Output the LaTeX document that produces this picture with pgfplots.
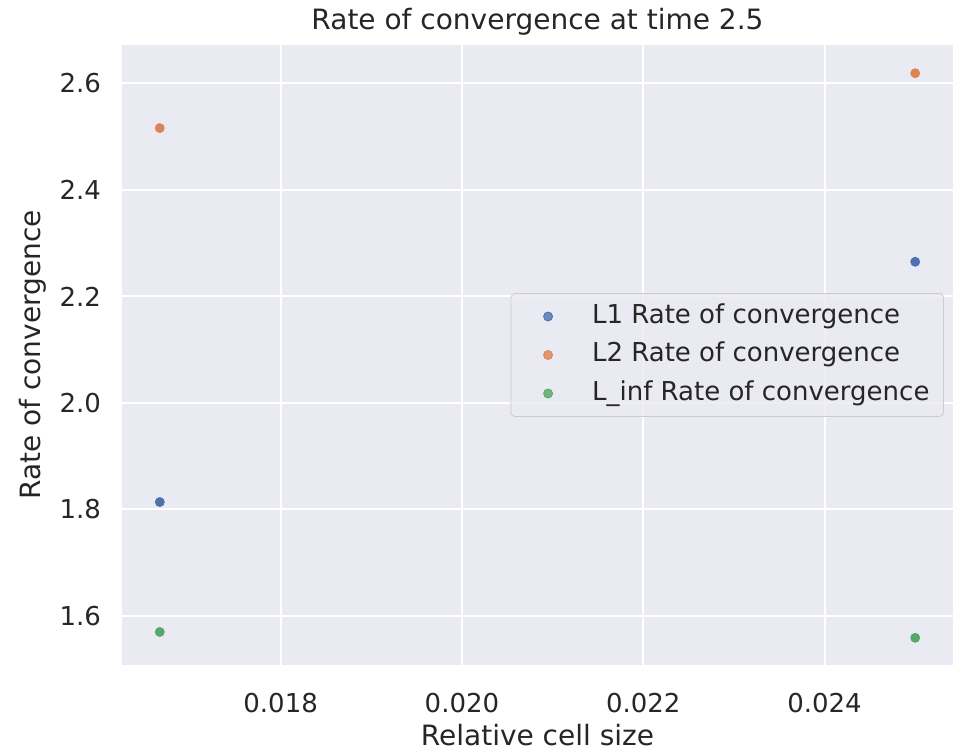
\documentclass[border=0pt]{standalone}
\usepackage{pgfplots}
\pgfplotsset{compat=1.18}
\usepackage{fontspec}
\setmainfont{DejaVu Sans}

\definecolor{sbblue}{HTML}{4C72B0}
\definecolor{sborange}{HTML}{DD8452}
\definecolor{sbgreen}{HTML}{55A868}
\definecolor{sbbg}{HTML}{EAEAF2}
\definecolor{txt}{HTML}{262626}

\begin{document}
\begin{tikzpicture}
\begin{axis}[
    width=415.5pt, height=310pt, scale only axis,
    xmin=0.01625, xmax=0.025417,
    ymin=1.508, ymax=2.672,
    scaled x ticks=false, scaled y ticks=false,
    axis background/.style={fill=sbbg},
    axis line style={draw=none},
    tick style={draw=none},
    grid=major,
    major grid style={white, line width=1pt},
    xtick={0.018,0.020,0.022,0.024},
    xticklabels={0.018,0.020,0.022,0.024},
    ytick={1.6,1.8,2.0,2.2,2.4,2.6},
    yticklabels={1.6,1.8,2.0,2.2,2.4,2.6},
    ticklabel style={font=\fontsize{13}{15}\selectfont, text=txt},
    xticklabel style={yshift=-10.5pt},
    yticklabel style={xshift=-7pt},
    every axis title shift=0pt,
    title={Rate of convergence at time 2.5},
    title style={at={(axis description cs:0.5,1.037)}, anchor=center, yshift=0pt,
        font=\fontsize{14}{16}\selectfont, text=txt},
    xlabel={Relative cell size},
    xlabel style={at={(axis description cs:0.5,-0.113)}, anchor=center,
        font=\fontsize{14}{16}\selectfont, text=txt},
    ylabel={Rate of convergence},
    ylabel style={at={(axis description cs:-0.107,0.5)}, anchor=center,
        font=\fontsize{14}{16}\selectfont, text=txt},
    legend cell align=left,
    legend image code/.code={
        \path[draw=none, fill=none] (0pt,0pt) -- (33.5pt,0pt);
        \path[#1, draw=none] plot[only marks] coordinates {(14pt,0pt)};
    },
    legend style={at={(0.989,0.5)}, anchor=east,
        fill=sbbg, fill opacity=0.8, text opacity=1,
        draw=black!20, rounded corners=2pt,
        font=\fontsize{13}{15}\selectfont, text=txt,
        inner xsep=4.5pt, inner ysep=3.5pt, row sep=3.25pt,
        nodes={inner xsep=2.5pt, inner ysep=2pt, text height=9.5pt, text depth=2.5pt}},
]
\addplot[only marks, mark=*, mark size=2.25pt, color=sbblue, mark options={draw=none, fill=sbblue}]
    coordinates {(0.016667, 1.814) (0.025, 2.265)};
\addlegendentry{L1 Rate of convergence}
\addplot[only marks, mark=*, mark size=2.25pt, color=sborange, mark options={draw=none, fill=sborange}]
    coordinates {(0.016667, 2.516) (0.025, 2.619)};
\addlegendentry{L2 Rate of convergence}
\addplot[only marks, mark=*, mark size=2.25pt, color=sbgreen, mark options={draw=none, fill=sbgreen}]
    coordinates {(0.016667, 1.570) (0.025, 1.559)};
\addlegendentry{L\_inf Rate of convergence}
\end{axis}
\pgfresetboundingbox
\path[use as bounding box] (current axis.south west) ++(-61pt,-43pt)
    rectangle ([shift={(2pt,22.5pt)}]current axis.north east);
\end{tikzpicture}
\end{document}
